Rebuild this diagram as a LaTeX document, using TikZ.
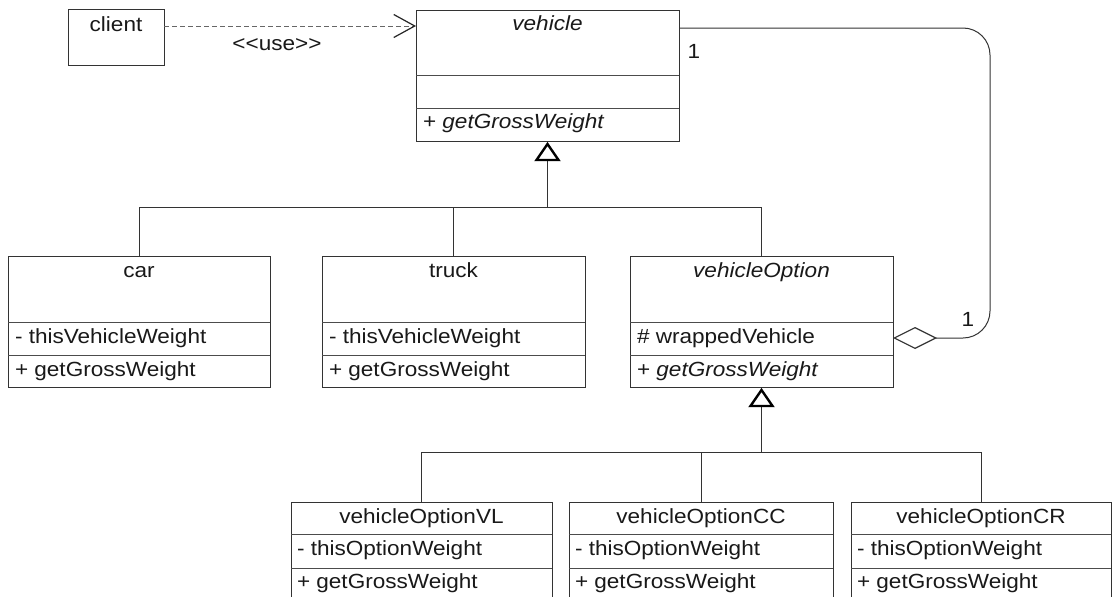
\documentclass[tikz,border=0pt]{standalone}
\usepackage{fontspec}
\setmainfont{Liberation Sans}[FakeStretch=1.1]
\usetikzlibrary{arrows.meta}
\begin{document}
\begin{tikzpicture}[x=1pt,y=-1pt,
  box/.style={draw=black!80, line width=1pt, inner sep=0pt, outer sep=0pt, rectangle, fill=white},
  sepline/.style={draw=black!70, line width=1pt},
  conn/.style={draw=black!80, line width=1pt},
  lbl/.style={anchor=base, inner sep=0pt, outer sep=0pt, font=\fontsize{20.5}{24}\selectfont, text=black!90},
  attr/.style={lbl, anchor=base west},
  gentri/.style={draw=black, line width=2.4pt, line join=miter, fill=white},
]
\useasboundingbox (0,0) rectangle (1114,597);
\fill[white] (0,0) rectangle (1114,597);
\clip (0,0) rectangle (1114,597);

% client
\node[box, minimum width=96pt, minimum height=56pt] (client) at (116,37) {};
\node[lbl] (clientT) at (116,31) {client};

% vehicle
\node[box, minimum width=263pt, minimum height=131pt] (vehicle) at (547.5,75.5) {};
\draw[sepline] (vehicle.west |- 0,75) -- (vehicle.east |- 0,75);
\draw[sepline] (vehicle.west |- 0,108) -- (vehicle.east |- 0,108);
\node[lbl] (vehicleT) at (547.5,30) {\itshape vehicle};
\node[attr] (vehicleM) at (423,128) {+ \itshape getGrossWeight};

% car
\node[box, minimum width=262pt, minimum height=131pt] (car) at (139,321.5) {};
\draw[sepline] (car.west |- 0,322) -- (car.east |- 0,322);
\draw[sepline] (car.west |- 0,355) -- (car.east |- 0,355);
\node[lbl] (carT) at (139,277) {car};
\node[attr] (carA) at (15,343) {- thisVehicleWeight};
\node[attr] (carM) at (15,376) {+ getGrossWeight};

% truck
\node[box, minimum width=263pt, minimum height=131pt] (truck) at (453.5,321.5) {};
\draw[sepline] (truck.west |- 0,322) -- (truck.east |- 0,322);
\draw[sepline] (truck.west |- 0,355) -- (truck.east |- 0,355);
\node[lbl] (truckT) at (453.5,277) {truck};
\node[attr] (truckA) at (329,343) {- thisVehicleWeight};
\node[attr] (truckM) at (329,376) {+ getGrossWeight};

% vehicleOption
\node[box, minimum width=263pt, minimum height=131pt] (vopt) at (761.5,321.5) {};
\draw[sepline] (vopt.west |- 0,322) -- (vopt.east |- 0,322);
\draw[sepline] (vopt.west |- 0,355) -- (vopt.east |- 0,355);
\node[lbl] (voptT) at (761.5,277) {\itshape vehicleOption};
\node[attr] (voptA) at (637,343) {\# wrappedVehicle};
\node[attr] (voptM) at (637,376) {+ \itshape getGrossWeight};

% vehicleOptionVL
\node[box, minimum width=261pt, minimum height=128pt] (vl) at (421.5,566) {};
\draw[sepline] (vl.west |- 0,534) -- (vl.east |- 0,534);
\draw[sepline] (vl.west |- 0,568) -- (vl.east |- 0,568);
\node[lbl] (vlT) at (421.5,523) {vehicleOptionVL};
\node[attr] (vlA) at (297,555) {- thisOptionWeight};
\node[attr] (vlM) at (297,588) {+ getGrossWeight};

% vehicleOptionCC
\node[box, minimum width=264pt, minimum height=128pt] (cc) at (701,566) {};
\draw[sepline] (cc.west |- 0,534) -- (cc.east |- 0,534);
\draw[sepline] (cc.west |- 0,568) -- (cc.east |- 0,568);
\node[lbl] (ccT) at (701,523) {vehicleOptionCC};
\node[attr] (ccA) at (575,555) {- thisOptionWeight};
\node[attr] (ccM) at (575,588) {+ getGrossWeight};

% vehicleOptionCR
\node[box, minimum width=260pt, minimum height=128pt] (cr) at (981,566) {};
\draw[sepline] (cr.west |- 0,534) -- (cr.east |- 0,534);
\draw[sepline] (cr.west |- 0,568) -- (cr.east |- 0,568);
\node[lbl] (crT) at (981,523) {vehicleOptionCR};
\node[attr] (crA) at (857,555) {- thisOptionWeight};
\node[attr] (crM) at (857,588) {+ getGrossWeight};

% generalization to vehicle
\coordinate (bus1) at (547.5,207);
\draw[conn] (car.north) |- (bus1);
\draw[conn] (truck.north) |- (bus1);
\draw[conn] (vopt.north) |- (bus1);
\draw[conn] (bus1) -- ([yshift=-18pt]vehicle.south);
\draw[gentri] ([yshift=-3pt]vehicle.south) -- ([xshift=-11pt,yshift=-19pt]vehicle.south)
  -- ([xshift=11pt,yshift=-19pt]vehicle.south) -- cycle;

% generalization to vehicleOption
\coordinate (bus2) at (761.5,452);
\draw[conn] (vl.north) |- (bus2);
\draw[conn] (cc.north) |- (bus2);
\draw[conn] (cr.north) |- (bus2);
\draw[conn] (bus2) -- ([yshift=-18pt]vopt.south);
\draw[gentri] ([yshift=-3pt]vopt.south) -- ([xshift=-11pt,yshift=-19pt]vopt.south)
  -- ([xshift=11pt,yshift=-19pt]vopt.south) -- cycle;

% use dependency
\draw[conn, draw=black!60, dash pattern=on 5pt off 3pt, -{Straight Barb[length=21pt, width=23pt, line width=1.2pt, black!85]}]
  ([yshift=11pt]client.east) -- ([yshift=49.5pt]vehicle.west);
\node[lbl] (useT) at (277,50) {<{}<use>{}>};

% aggregation
\draw[conn, rounded corners=27pt, {Diamond[open, length=44pt, width=22pt, line width=1.2pt]}-]
  ([yshift=-16.5pt]vopt.east) -- (990,338) -- (990,28) -- ([yshift=-18pt]vehicle.north east);
\node[lbl] (m1) at (694,58) {1};
\node[lbl] (m2) at (968,326) {1};
\end{tikzpicture}
\end{document}
